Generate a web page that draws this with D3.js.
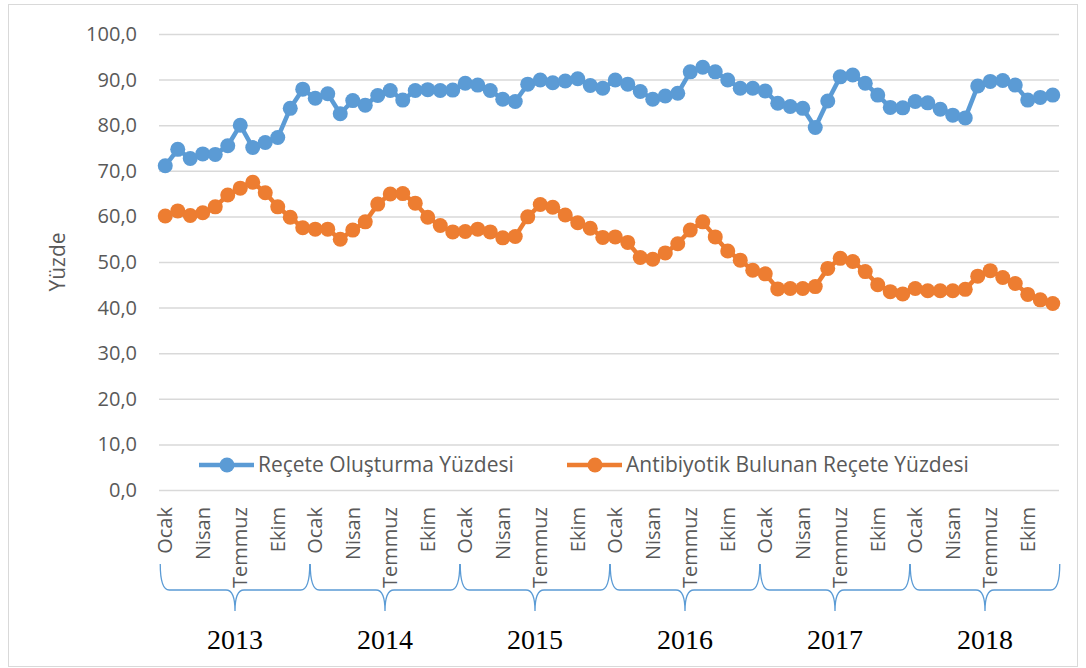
<!DOCTYPE html>
<html>
<head>
<meta charset="utf-8">
<script src="https://cdn.jsdelivr.net/npm/d3@7"></script>
<style>
  body { margin: 0; background: #fff; }
  text { font-family: "Open Sans", sans-serif; }
</style>
</head>
<body>
<div id="chart"></div>
<script>
// data (monthly, Ocak 2013 - Aralık 2018)
const years = [2013, 2014, 2015, 2016, 2017, 2018];
const quarterLabels = ["Ocak", "Nisan", "Temmuz", "Ekim"];
const yTicks = [0, 10, 20, 30, 40, 50, 60, 70, 80, 90, 100];
const seriesNames = ["Reçete Oluşturma Yüzdesi", "Antibiyotik Bulunan Reçete Yüzdesi"];

const receteYuzdesi = [
  71.1, 74.7, 72.7, 73.7, 73.6, 75.5, 80.0, 75.1, 76.2, 77.3, 83.7, 87.9,
  85.9, 86.9, 82.5, 85.4, 84.4, 86.5, 87.6, 85.5, 87.6, 87.8, 87.6, 87.7,
  89.2, 88.8, 87.6, 85.7, 85.2, 89.0, 89.9, 89.3, 89.7, 90.2, 88.7, 88.1,
  89.9, 89.0, 87.4, 85.7, 86.4, 87.0, 91.7, 92.7, 91.7, 89.9, 88.1, 88.1,
  87.5, 84.8, 84.1, 83.7, 79.5, 85.3, 90.6, 91.0, 89.2, 86.6, 83.9, 83.8,
  85.2, 84.9, 83.5, 82.2, 81.6, 88.6, 89.6, 89.8, 88.8, 85.5, 86.1, 86.6
];

const antibiyotikYuzdesi = [
  60.1, 61.2, 60.2, 60.8, 62.1, 64.7, 66.2, 67.5, 65.2, 62.1, 59.8, 57.5,
  57.2, 57.2, 55.0, 57.0, 58.8, 62.7, 64.9, 65.0, 62.9, 59.8, 58.0, 56.6,
  56.7, 57.2, 56.6, 55.3, 55.6, 59.9, 62.6, 62.0, 60.3, 58.6, 57.4, 55.4,
  55.5, 54.3, 51.0, 50.6, 52.0, 54.0, 57.0, 58.8, 55.5, 52.4, 50.4, 48.2,
  47.4, 44.1, 44.2, 44.2, 44.6, 48.6, 50.8, 50.1, 47.9, 45.0, 43.5, 43.0,
  44.2, 43.7, 43.7, 43.7, 44.0, 46.9, 48.1, 46.6, 45.3, 42.9, 41.7, 40.9
];

const colors = ["#5b9bd5", "#ed7d31"];

const drawChart = () => {
  const W = 1086, H = 668;
  const plot = { left: 159, right: 1059, top: 34, bottom: 490 };

  const svg = d3.select("#chart")
    .append("svg")
      .attr("width", W)
      .attr("height", H);

  // outer frame
  svg.append("rect")
    .attr("x", 8.5).attr("y", 4.5)
    .attr("width", 1069).attr("height", 662)
    .attr("fill", "#fff")
    .attr("stroke", "#d9d9d9")
    .attr("stroke-width", 1);

  // one category per month
  const months = d3.range(years.length * 12);

  const x = d3.scalePoint()
    .domain(months)
    .range([plot.left, plot.right])
    .padding(0.5);

  const y = d3.scaleLinear()
    .domain([0, 100])
    .range([plot.bottom, plot.top]);

  // horizontal gridlines + y labels
  const yAxis = svg.append("g")
    .attr("transform", `translate(${plot.left},0)`)
    .call(d3.axisLeft(y)
      .tickValues(yTicks)
      .tickSize(-(plot.right - plot.left))
      .tickPadding(22)
      .tickFormat(d => d3.format(".1f")(d).replace(".", ",")));
  yAxis.select(".domain").remove();
  yAxis.selectAll(".tick line")
    .attr("stroke", "#d9d9d9")
    .attr("stroke-width", 1.5);
  yAxis.selectAll(".tick text")
    .attr("fill", "#595959")
    .style("font-size", "20px");

  // y-axis label
  svg.append("text")
    .attr("transform", `translate(65,${(plot.top + plot.bottom) / 2}) rotate(-90)`)
    .attr("text-anchor", "middle")
    .attr("fill", "#595959")
    .style("font-size", "21px")
    .text("Yüzde");

  // month labels, every third month
  svg.append("g")
    .selectAll("text")
    .data(months.filter(m => m % 3 === 0))
    .join("text")
      .attr("transform", d => `translate(${x(d) + 7},507) rotate(-90)`)
      .attr("text-anchor", "end")
      .attr("fill", "#595959")
      .style("font-size", "20px")
      .text(d => quarterLabels[(d % 12) / 3]);

  // lines and markers
  const seriesData = [receteYuzdesi, antibiyotikYuzdesi];
  const line = d3.line()
    .x((d, i) => x(i))
    .y(d => y(d));

  seriesData.forEach((values, s) => {
    svg.append("path")
      .datum(values)
      .attr("fill", "none")
      .attr("stroke", colors[s])
      .attr("stroke-width", 4.5)
      .attr("stroke-linejoin", "round")
      .attr("d", line);

    svg.append("g")
      .selectAll("circle")
      .data(values)
      .join("circle")
        .attr("cx", (d, i) => x(i))
        .attr("cy", d => y(d))
        .attr("r", 7.5)
        .attr("fill", colors[s]);
  });

  // legend
  const legendX = [199, 567];
  const legend = svg.append("g")
    .selectAll("g")
    .data(seriesNames)
    .join("g")
      .attr("transform", (d, i) => `translate(${legendX[i]},465)`);
  legend.append("line")
    .attr("x1", 0).attr("x2", 55)
    .attr("stroke", (d, i) => colors[i])
    .attr("stroke-width", 4.5);
  legend.append("circle")
    .attr("cx", 28)
    .attr("r", 7.5)
    .attr("fill", (d, i) => colors[i]);
  legend.append("text")
    .attr("x", 59)
    .attr("dy", "0.35em")
    .attr("fill", "#595959")
    .style("font-size", "21px")
    .text(d => d);

  // year braces under the month labels
  const braceTop = 564, braceMid = 590, braceTip = 611;
  const braces = svg.append("g")
    .selectAll("g")
    .data(years)
    .join("g");

  braces.append("path")
    .attr("fill", "none")
    .attr("stroke", "#5b9bd5")
    .attr("stroke-width", 1.3)
    .attr("d", (d, i) => {
      const s = x(i * 12) - 5;
      const e = x(i * 12 + 11) + 7;
      const c = (s + e) / 2;
      return `M${s},${braceTop} Q${s},${braceMid} ${s + 9},${braceMid}` +
        ` L${c - 9},${braceMid} Q${c},${braceMid} ${c},${braceTip}` +
        ` Q${c},${braceMid} ${c + 9},${braceMid}` +
        ` L${e - 9},${braceMid} Q${e},${braceMid} ${e},${braceTop}`;
    });

  braces.append("text")
    .attr("x", (d, i) => (x(i * 12) + x(i * 12 + 11) + 2) / 2)
    .attr("y", 649)
    .attr("text-anchor", "middle")
    .attr("fill", "#000")
    .style("font-family", "'Liberation Serif', 'Times New Roman', serif")
    .style("font-size", "28px")
    .text(d => d);
};

drawChart();
</script>
</body>
</html>
